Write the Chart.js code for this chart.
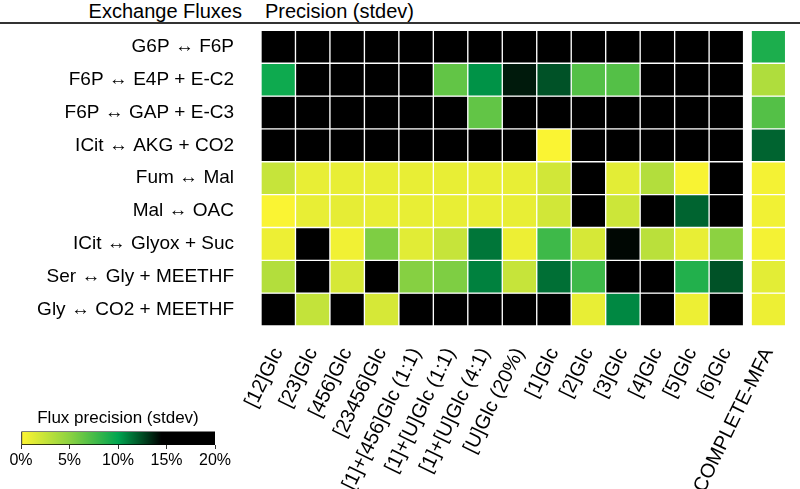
<!DOCTYPE html>
<html>
<head>
  <meta charset="utf-8">
  <title>Exchange flux precision</title>
  <script src="https://cdn.jsdelivr.net/npm/chart.js@4.4.1/dist/chart.umd.min.js"></script>
  <style>
    body { margin: 0; background: #fff; font-family: 'Liberation Sans', Arial, sans-serif; }
    #wrap { position: relative; width: 800px; height: 489px; overflow: hidden; }
    .head { position: absolute; top: 0px; font-size: 20px; color: #000; white-space: nowrap; }
    #rule { position: absolute; left: 0; top: 22px; width: 800px; height: 2px; background: #333; }
  </style>
</head>
<body>
<div id="wrap">
  <div class="head" style="right: 558px;">Exchange Fluxes</div>
  <div class="head" style="left: 265px;">Precision (stdev)</div>
  <div id="rule"></div>
  <canvas id="heat" width="800" height="489" style="position:absolute;left:0;top:0;"></canvas>
  <canvas id="bar" width="245" height="80" style="position:absolute;left:0;top:395px;"></canvas>
</div>

<script>
// rows = exchange fluxes, columns = tracers (+ COMPLETE-MFA)
const fluxes = [
  'G6P \u2194 F6P',
  'F6P \u2194 E4P + E-C2',
  'F6P \u2194 GAP + E-C3',
  'ICit \u2194 AKG + CO2',
  'Fum \u2194 Mal',
  'Mal \u2194 OAC',
  'ICit \u2194 Glyox + Suc',
  'Ser \u2194 Gly + MEETHF',
  'Gly \u2194 CO2 + MEETHF'
];
const tracers = ['[12]Glc', '[23]Glc', '[456]Glc', '[23456]Glc', '[1]+[456]Glc (1:1)',
  '[1]+[U]Glc (1:1)', '[1]+[U]Glc (4:1)', '[U]Glc (20%)', '[1]Glc', '[2]Glc', '[3]Glc',
  '[4]Glc', '[5]Glc', '[6]Glc', 'COMPLETE-MFA'];
// column centres on the x axis (gap before COMPLETE-MFA)
const colPos = [0.5, 1.5, 2.5, 3.5, 4.5, 5.5, 6.5, 7.5, 8.5, 9.5, 10.5, 11.5, 12.5, 13.5, 14.72];

// stdev in %, 20 = off scale (black)
const g6pF6p    = [20, 20, 20, 20, 20, 20, 20, 20, 20, 20, 20, 20, 20, 20, 9];
const f6pE4p    = [9.5, 20, 20, 20, 20, 6.5, 10.5, 13.8, 12.3, 7, 7, 20, 20, 20, 3.5];
const f6pGap    = [20, 20, 20, 20, 20, 20, 6.5, 20, 20, 20, 20, 20, 20, 20, 7];
const icitAkg   = [20, 20, 20, 20, 20, 20, 20, 20, 0.2, 20, 20, 20, 20, 20, 11.8];
const fumMal    = [2.5, 1, 1, 1, 1, 1, 1, 1, 2, 20, 1.2, 3.3, 0.3, 20, 0.5];
const malOac    = [0.2, 1, 1.1, 1, 1, 1, 1, 1, 2, 20, 2.2, 20, 11.8, 20, 0.6];
const icitGlyox = [0.8, 20, 0.6, 5.5, 1.3, 2.5, 11.3, 0.8, 7.8, 1.8, 14.3, 3, 1, 5, 0.5];
const serGly    = [3.3, 20, 1.8, 20, 5.2, 5.5, 11, 2.5, 11.5, 7.8, 20, 20, 8.8, 12.3, 1.2];
const glyCo2    = [20, 2.6, 20, 1.8, 20, 20, 20, 20, 20, 1, 10.8, 20, 0.8, 20, 0.8];
const precision = [g6pF6p, f6pE4p, f6pGap, icitAkg, fumMal, malOac, icitGlyox, serGly, glyCo2];

// colour scale
const scaleTicks = [0, 5, 10, 15, 20];
const stopVals = [0, 5, 10, 12.5, 14.5, 20];
const stopCols = [[255, 245, 50], [140, 210, 65], [0, 165, 80], [0, 75, 35], [0, 0, 0], [0, 0, 0]];

function colorFor(v) {
  if (v <= stopVals[0]) return 'rgb(' + stopCols[0].join(',') + ')';
  for (let i = 1; i < stopVals.length; i++) {
    if (v <= stopVals[i]) {
      const t = (v - stopVals[i - 1]) / (stopVals[i] - stopVals[i - 1]);
      const c = stopCols[i - 1].map((a, k) => Math.round(a + (stopCols[i][k] - a) * t));
      return 'rgb(' + c.join(',') + ')';
    }
  }
  return 'rgb(0,0,0)';
}

Chart.defaults.font.family = "'Liberation Sans', Arial, sans-serif";
Chart.defaults.color = '#000';

const datasets = precision.map((row, r) => ({
  label: fluxes[r],
  data: row.map((v, c) => ({ x: colPos[c], y: [r, r + 1], v: v })),
  backgroundColor: row.map(v => colorFor(v)),
  borderColor: '#fff',
  borderWidth: 1,
  borderSkipped: false,
  grouped: false,
  categoryPercentage: 1,
  barPercentage: 1
}));

new Chart(document.getElementById('heat'), {
  type: 'bar',
  data: { datasets: datasets },
  options: {
    responsive: false,
    animation: false,
    layout: { padding: { top: 26, right: 1, left: 0, bottom: 0 } },
    plugins: { legend: { display: false }, tooltip: { enabled: false } },
    scales: {
      x: {
        type: 'linear',
        min: 0,
        max: 15.22,
        offset: false,
        grid: { display: false },
        border: { display: false },
        afterBuildTicks: (scale) => { scale.ticks = colPos.map(v => ({ value: v })); },
        afterFit: (scale) => { scale.height = 163; },
        ticks: {
          autoSkip: false,
          minRotation: 64,
          maxRotation: 64,
          padding: 10,
          font: { size: 20 },
          callback: (value, index) => tracers[index]
        }
      },
      y: {
        type: 'linear',
        min: 0,
        max: 9,
        reverse: true,
        grid: { display: false },
        border: { display: false },
        afterBuildTicks: (scale) => { scale.ticks = fluxes.map((_, i) => ({ value: i + 0.5 })); },
        afterFit: (scale) => { scale.width = 261; },
        ticks: {
          padding: 19,
          font: { size: 19 },
          callback: (value) => fluxes[Math.floor(value)]
        }
      }
    }
  }
});

// colour bar
new Chart(document.getElementById('bar'), {
  type: 'bar',
  data: {
    labels: [''],
    datasets: [{
      data: [[scaleTicks[0], scaleTicks[scaleTicks.length - 1]]],
      backgroundColor: (ctx) => {
        const area = ctx.chart.chartArea;
        if (!area) return '#000';
        const g = ctx.chart.ctx.createLinearGradient(area.left, 0, area.right, 0);
        stopVals.forEach((v, i) => g.addColorStop(v / 20, 'rgb(' + stopCols[i].join(',') + ')'));
        return g;
      },
      borderColor: '#000',
      borderWidth: 1,
      borderSkipped: false,
      categoryPercentage: 1,
      barPercentage: 1
    }]
  },
  options: {
    indexAxis: 'y',
    responsive: false,
    animation: false,
    layout: { padding: { left: 21, right: 30, top: 0, bottom: 0 } },
    plugins: {
      legend: { display: false },
      tooltip: { enabled: false },
      title: {
        display: true,
        text: 'Flux precision (stdev)',
        font: { size: 17, weight: 'normal' },
        padding: { top: 13, bottom: 3 }
      }
    },
    scales: {
      x: {
        min: 0,
        max: 20,
        grid: { drawOnChartArea: false, tickLength: 4, color: '#333' },
        border: { display: false },
        afterFit: (scale) => { scale.height = 30; },
        ticks: { stepSize: 5, padding: 2, font: { size: 16 }, callback: (v) => v + '%' }
      },
      y: { display: false }
    }
  }
});
</script>
</body>
</html>
